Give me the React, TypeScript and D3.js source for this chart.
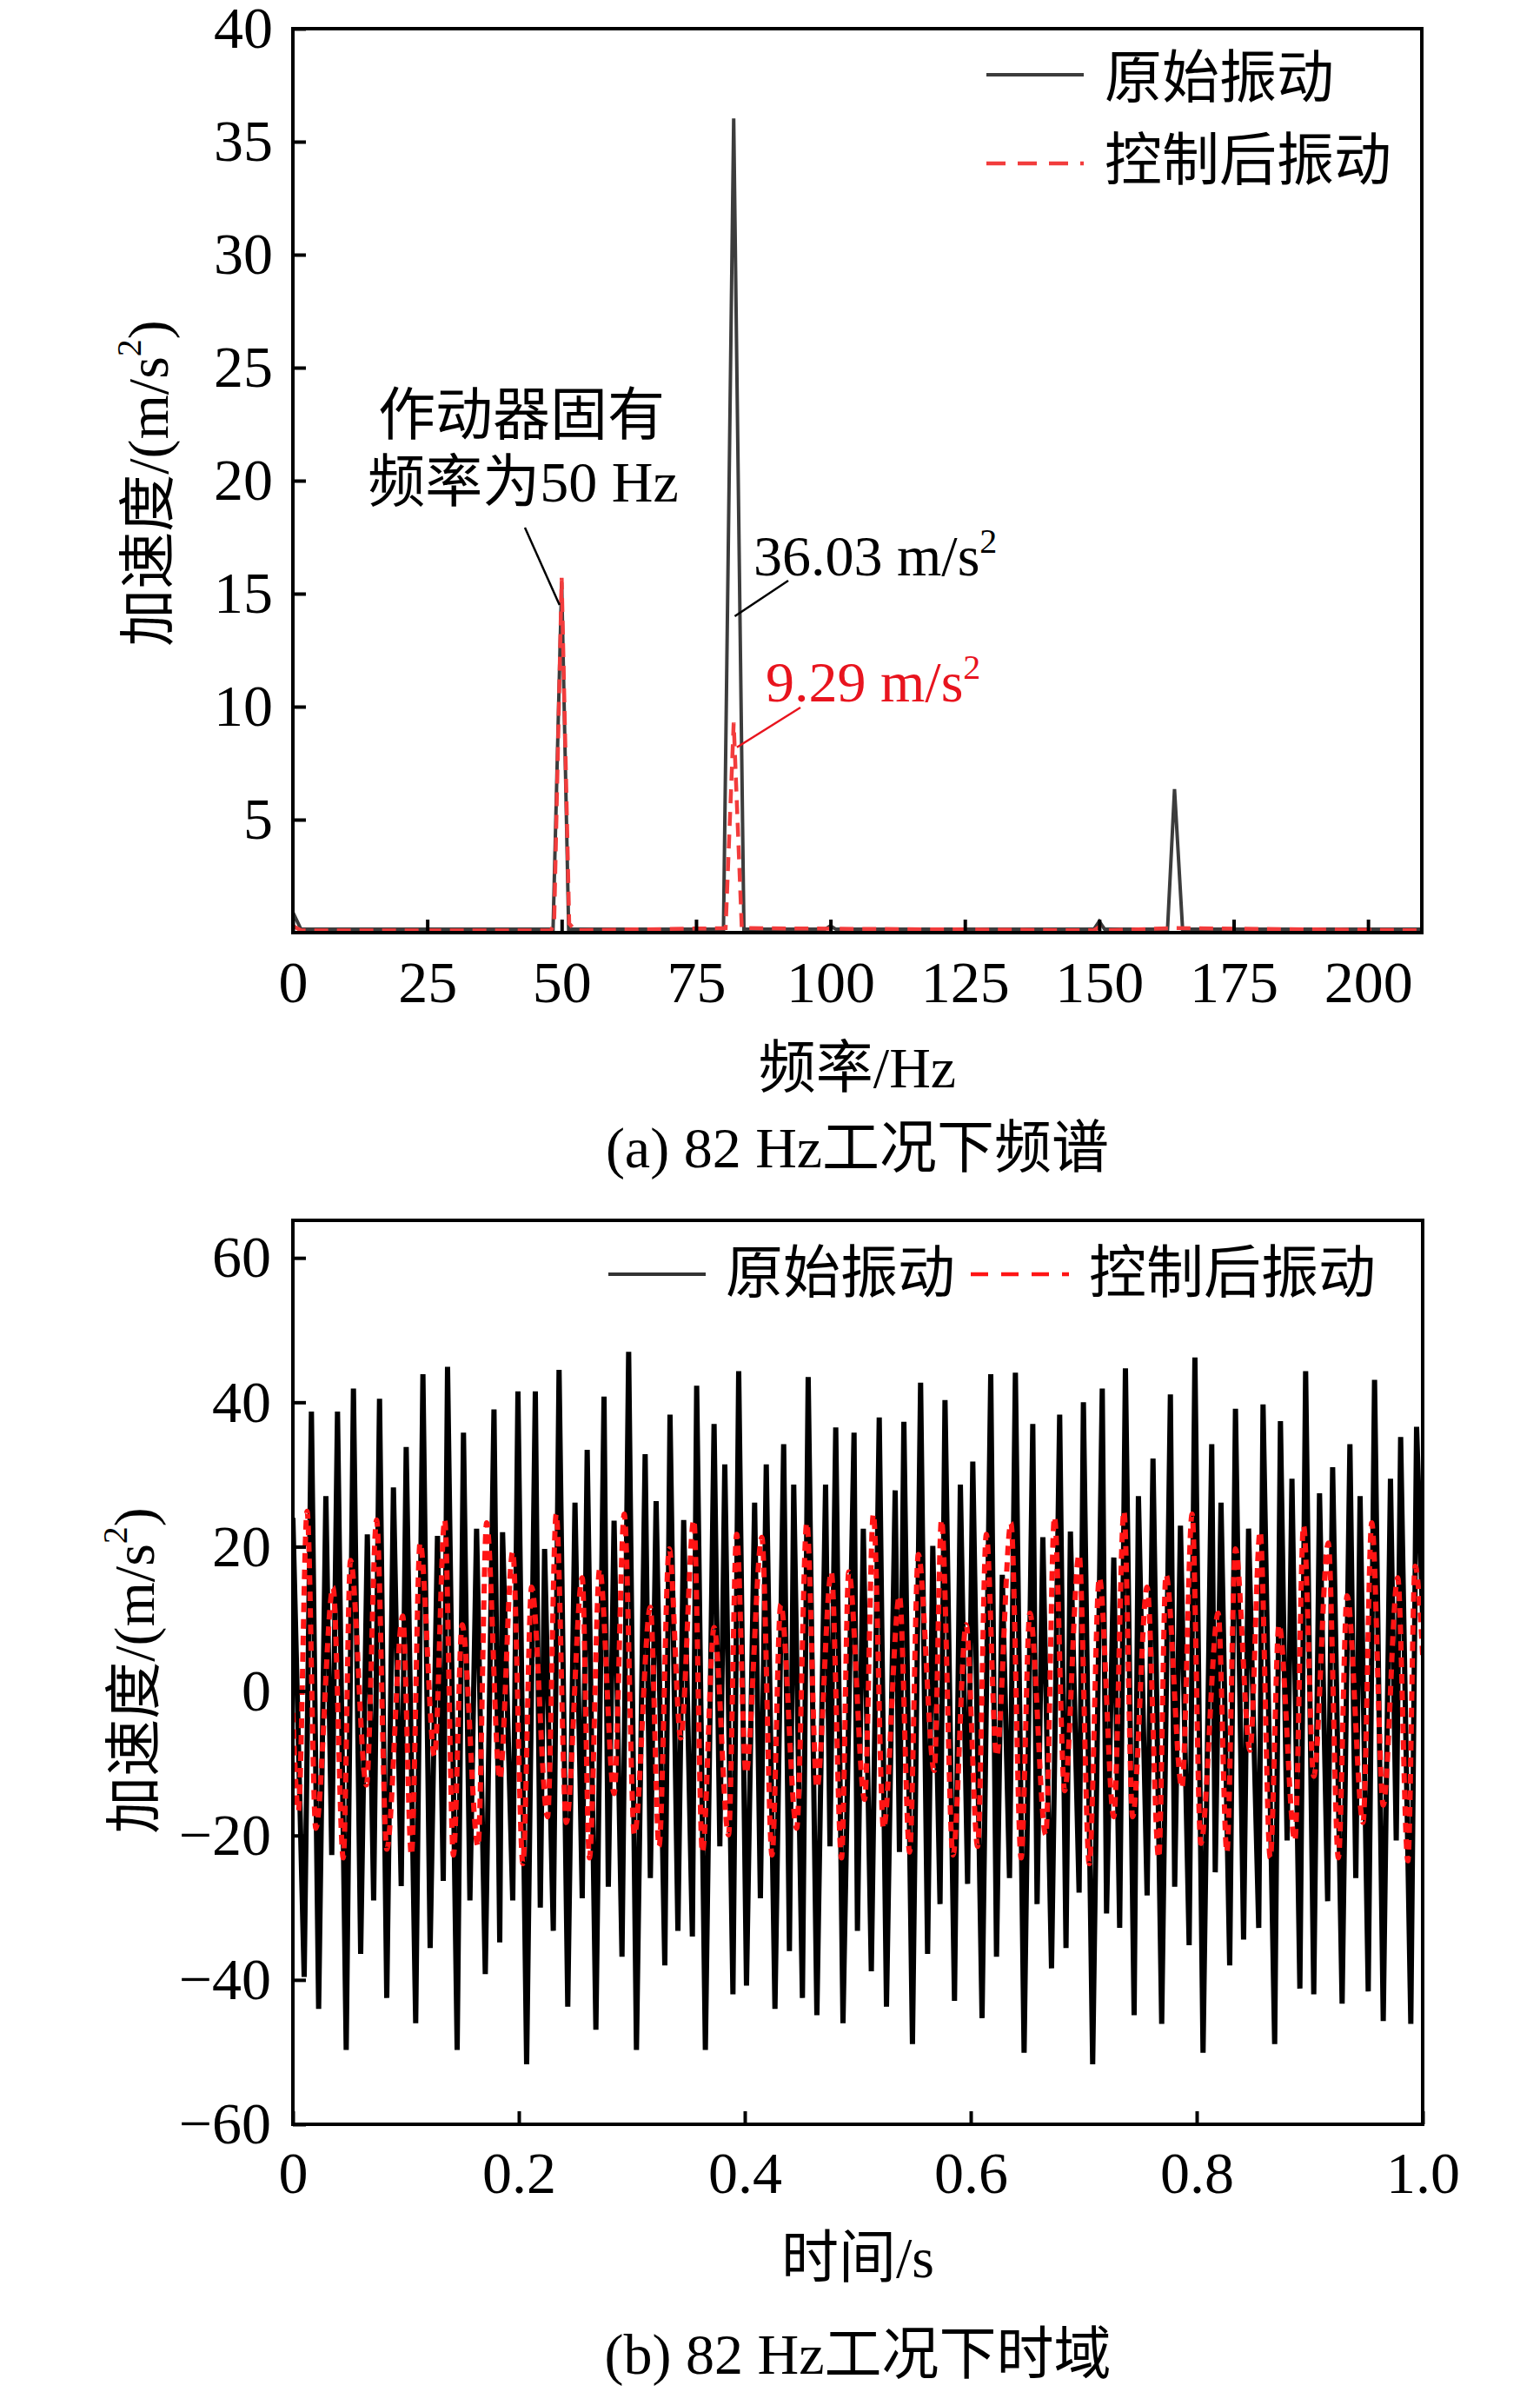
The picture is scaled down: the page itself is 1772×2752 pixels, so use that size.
import * as d3 from "d3";
import React, { useEffect, useRef } from "react";

// ---- (a) spectrum ----
const origFreq = [0, 1.5, 48.4, 50, 51.3, 80.1, 82, 83.9, 99, 100, 101, 149, 150, 151, 162.7, 164, 165.5, 210];
const origAmp = [0.9, 0.15, 0.15, 15.5, 0.15, 0.15, 36.03, 0.15, 0.15, 0.3, 0.15, 0.15, 0.5, 0.15, 0.15, 6.35, 0.15, 0.15];
const ctrlFreq = [0, 1.5, 48, 48.6, 50, 51.4, 52.5, 80.5, 82, 83.5, 149, 150, 151, 164, 210];
const ctrlAmp = [0.3, 0.1, 0.1, 0.4, 15.7, 0.4, 0.1, 0.2, 9.29, 0.2, 0.1, 0.25, 0.1, 0.2, 0.1];
const freqTicks = [0, 25, 50, 75, 100, 125, 150, 175, 200];
const ampTicks = [5, 10, 15, 20, 25, 30, 35, 40];

// ---- (b) time signal: local extremes (ms, m/s^2) ----
const origT = [0, 10, 16.4, 22.8, 29.2, 34.4, 39.5, 47.2, 53.6, 60, 65.9, 71.5, 76.7, 83.1, 89, 95.9, 100.3, 108.7, 115.1, 121.5, 128, 133.1, 136.9, 145.4, 151, 156.7, 162.6, 170.3, 178, 183.1, 185.6, 194.6, 199.2, 206.9, 214.6, 219, 222.8, 230.5, 235.6, 243.3,
  249.7, 256.1, 260.5, 268.2, 275.4, 279.2, 284.3, 291.3, 297.2, 304.1, 311.8, 316.4, 321.5, 329.2, 333.8, 340.8, 345.9, 353.6, 357.4, 365.1, 372.8, 377.9, 382.3, 389.5, 394.6, 401.5, 408.7, 413.8, 419, 426.7, 434.4, 439.5, 443.3, 451, 456.1, 463.8, 471.5, 475.4, 480.5, 486.9,
  496.7, 499.7, 504.9, 512, 519, 525.4, 533.1, 536.9, 540.8, 548.4, 555.6, 561.8, 566.4, 572.8, 577.2, 585.6, 590.8, 597.2, 601.8, 610, 617.7, 622.8, 627.9, 634.3, 639.5, 647.2, 654.9, 658.7, 663.8, 671.5, 678.7, 684.3, 688.2, 695.9, 699.7, 707.9, 716.4, 720.2, 726.6, 731.8, 736.9, 744.6,
  748.4, 756.1, 761.3, 769, 776.7, 780.5, 785.6, 793.3, 798.4, 805.6, 813.3, 816.4, 821.5, 829.2, 834.3, 841.5, 845.9, 854.9, 858.7, 869, 874.1, 880, 884.3, 891.3, 896.4, 903.6, 908.7, 915.9, 920.3, 928.7, 935.6, 940.8, 944.6, 951.8, 957.4, 965.1, 971.5, 976.6, 980.5, 989.5, 994.6, 1000];
const origAcc = [24, -39.6, 38.7, -44, 27, -22.7, 38.7, -49.7, 41.9, -36.4, 21.7, -29, 40.5, -42.5, 28.2, -27, 33.8, -46, 43.9, -35.6, 21.5, -26.3, 44.9, -49.7, 35.8, -29, 22.5, -39.2, 39, -34.8, 22, -29, 41.5, -51.7, 41.5, -30, 19.7, -33.2, 44.5, -43.7,
  26.1, -28.7, 33.4, -46.9, 40.8, -27.1, 23.6, -36.8, 47, -49.7, 32.8, -25.9, 26.3, -38, 38.3, -33.2, 23.7, -34, 42.3, -49.7, 37, -21.5, 31.4, -42, 44.3, -40.8, 26.1, -28.7, 31.4, -44, 34.2, -36, 28.6, -42.5, 43.5, -44.9, 28.6, -21.5, 36.5, -46,
  35.8, -33.2, 22.5, -38.8, 37.9, -43.7, 27.8, -22.3, 37.3, -48.9, 42.7, -36.4, 20.1, -29.5, 40.3, -42.9, 28.6, -26.7, 31.8, -45.3, 43.9, -36.8, 16.1, -25.9, 44.1, -50.1, 37, -29.5, 21.3, -38.4, 38.3, -35.6, 22.1, -27.9, 40, -51.7, 41.9, -30.8, 18.5, -32.8, 44.7, -44.9,
  27, -28.3, 32.2, -46.1, 41.1, -27.1, 22.9, -35.2, 46.2, -50.1, 34.2, -25.1, 26.1, -38, 39.1, -34.4, 22.5, -32.8, 39.7, -48.9, 37.4, -20.7, 29.4, -41.2, 44.3, -42, 27.4, -29.1, 31, -43.3, 34.2, -25.9, 27, -41.6, 43.1, -45.7, 29.4, -20.7, 35.2, -46.1, 36.6, 10];
const ctrlT = [0, 4.9, 12.6, 20.3, 35.6, 44.6, 51, 65.1, 74.1, 83.1, 97.2, 104.9, 112.6, 125.4, 134.4, 142.1, 149.8, 163.9, 171.5, 183.1, 194.6, 203.6, 211.3, 225.4, 233.1, 242,
  256.1, 262.5, 271.5, 284.3, 293.3, 302.3, 316.4, 324.1, 333.1, 343.3, 354.9, 362.5, 372.8, 385.6, 392.8, 401, 415.1, 424.1, 431.8, 445.9, 454.9, 463.8, 476.6, 485.6, 492,
  506.1, 513.8, 522.8, 536.9, 545.9, 553.6, 567.7, 574.1, 584.3, 595.9, 606.1, 613.8, 622.8, 635.6, 644.6, 652.3, 666.4, 674.1, 683.1, 695.9, 704.9, 713.8, 726.6, 735.6, 743.3,
  756.1, 766.4, 772.8, 786.9, 795.9, 803.6, 819, 826.7, 834.3, 847.2, 856.1, 865.1, 872.8, 886.9, 894.6, 903.6, 916.4, 925.4, 933.1, 947.2, 954.9, 965.1, 977.9, 986.9, 993.3, 1000];
const ctrlAcc = [-3, -16.6, 24.9, -19, 14.4, -23.1, 18.1, -13, 23.7, -21.9, 10.4, -22.7, 20.5, -9, 23.7, -22.7, 9.2, -21.5, 23.3, -12.2, 19.3, -23.9, 14.4, -17.4, 24.5, -18.2,
  15.7, -23.1, 16.9, -14.2, 24.5, -19.9, 11.6, -21.5, 19.7, -6.5, 23.7, -22.3, 8.8, -19.9, 21.7, -11.4, 21.3, -22.7, 12, -19, 23.3, -13.4, 16.5, -23.1, 16.5,
  -15, 24.5, -19, 13.2, -22.3, 18.9, -11, 23.7, -22.7, 9.2, -21.5, 21.7, -9, 23.3, -23.1, 10.8, -19.9, 24.1, -13.8, 18.9, -23.9, 15.7, -17.4, 24.9, -17.4,
  14.4, -23.1, 16.1, -13.4, 24.5, -21.1, 10.8, -22.3, 19.7, -8.2, 22.1, -23.1, 9.2, -20.7, 22.9, -11.8, 20.5, -23.1, 13.2, -18.2, 23.3, -15.8, 15.7, -23.5, 17.3, 5];
const timeTicks = [0, 0.2, 0.4, 0.6, 0.8, 1.0];
const accTicks = [-60, -40, -20, 0, 20, 40, 60];

const seriesNames = ["原始振动", "控制后振动"];

const FONT = "'Liberation Serif', 'Noto Sans CJK SC', serif";
const TXT = 66; // size of the titles / legend / notes

function unitLabel(g: any, x: number, y: number, head: string) {
  // rotated y title with a superscript 2
  const t = g
    .append("text")
    .attr("transform", `translate(${x},${y}) rotate(-90)`)
    .attr("text-anchor", "middle")
    .attr("dominant-baseline", "central")
    .attr("font-size", TXT);
  t.append("tspan").text(head + "/(m/s");
  t.append("tspan").attr("dy", -22).attr("font-size", 40).text("2");
  t.append("tspan").attr("dy", 22).text(")");
}

function centred(g: any, x: number, y: number, s: string, size = TXT) {
  return g.append("text").attr("x", x).attr("y", y).attr("text-anchor", "middle")
    .attr("dominant-baseline", "central").attr("font-size", size).text(s);
}

function drawChart(el: SVGSVGElement) {
  const svg = d3.select(el);
  svg.selectAll("*").remove();
  svg.attr("font-family", FONT).attr("fill", "#000");
  svg.append("rect").attr("width", 1772).attr("height", 2752).attr("fill", "#fff");

  // ================= (a) =================
  const xA = d3.scaleLinear().domain([0, 210]).range([337, 1636]);
  const yA = d3.scaleLinear().domain([0, 40]).range([1073, 33]);
  const midA = (xA.range()[0] + xA.range()[1]) / 2;

  svg.append("clipPath").attr("id", "clipA").append("rect")
    .attr("x", 337).attr("y", 33).attr("width", 1299).attr("height", 1040);

  const lineA = d3.line<number>().x((d, i) => xA(origFreq[i])).y(d => yA(d));
  svg.append("path")
    .attr("d", lineA(origAmp))
    .attr("clip-path", "url(#clipA)")
    .attr("fill", "none").attr("stroke", "#3c3c3c").attr("stroke-width", 4);
  const lineA2 = d3.line<number>().x((d, i) => xA(ctrlFreq[i])).y(d => yA(d));
  svg.append("path")
    .attr("d", lineA2(ctrlAmp))
    .attr("clip-path", "url(#clipA)")
    .attr("fill", "none").attr("stroke", "#f23c3c").attr("stroke-width", 4.5)
    .attr("stroke-dasharray", "16 10");

  const axA = svg.append("g").attr("transform", "translate(0,1073)")
    .call(d3.axisBottom(xA).tickValues(freqTicks).tickSize(-15).tickPadding(32).tickFormat(d3.format("d")));
  const ayA = svg.append("g").attr("transform", "translate(337,0)")
    .call(d3.axisLeft(yA).tickValues(ampTicks).tickSize(-15).tickPadding(23).tickFormat(d3.format("d")));
  [axA, ayA].forEach(a => {
    a.select(".domain").remove();
    a.selectAll("line").attr("stroke", "#000").attr("stroke-width", 4);
    a.selectAll("text").attr("font-size", 68).attr("font-family", FONT).attr("fill", "#000");
  });
  svg.append("rect").attr("x", 337).attr("y", 33).attr("width", 1299).attr("height", 1040)
    .attr("fill", "none").attr("stroke", "#000").attr("stroke-width", 4);

  // legend (a)
  svg.append("line").attr("x1", 1135).attr("x2", 1247).attr("y1", 86).attr("y2", 86)
    .attr("stroke", "#3c3c3c").attr("stroke-width", 4);
  svg.append("line").attr("x1", 1135).attr("x2", 1247).attr("y1", 188).attr("y2", 188)
    .attr("stroke", "#f23c3c").attr("stroke-width", 4.5).attr("stroke-dasharray", "22 14");
  svg.append("text").attr("x", 1271).attr("y", 89).attr("dominant-baseline", "central")
    .attr("font-size", TXT).text(seriesNames[0]);
  svg.append("text").attr("x", 1271).attr("y", 184).attr("dominant-baseline", "central")
    .attr("font-size", TXT).text(seriesNames[1]);

  // annotations (a)
  centred(svg, 600, 477, "作动器固有");
  centred(svg, 602, 554, "频率为50 Hz");
  svg.append("line").attr("x1", 604).attr("y1", 607).attr("x2", xA(49.6)).attr("y2", yA(14.5))
    .attr("stroke", "#000").attr("stroke-width", 2.5);

  const pk = svg.append("text").attr("x", 867).attr("y", 662).attr("font-size", 66);
  pk.append("tspan").text("36.03 m/s");
  pk.append("tspan").attr("dy", -26).attr("font-size", 40).text("2");
  svg.append("line").attr("x1", 907).attr("y1", 668).attr("x2", xA(82.2)).attr("y2", yA(14))
    .attr("stroke", "#000").attr("stroke-width", 2.5);

  const pk2 = svg.append("text").attr("x", 881).attr("y", 807).attr("font-size", 66).attr("fill", "#e8141e");
  pk2.append("tspan").text("9.29 m/s");
  pk2.append("tspan").attr("dy", -26).attr("font-size", 40).text("2");
  svg.append("line").attr("x1", 921).attr("y1", 814).attr("x2", xA(82.6)).attr("y2", yA(8.2))
    .attr("stroke", "#e8141e").attr("stroke-width", 2.5);

  unitLabel(svg, 170, 556, "加速度");
  centred(svg, midA, 1228, "频率/Hz");
  centred(svg, midA, 1320, "(a) 82 Hz工况下频谱");

  // ================= (b) =================
  const xB = d3.scaleLinear().domain([0, 1]).range([337, 1637]);
  const yB = d3.scaleLinear().domain([-60, 65.2]).range([2444, 1404]);
  const midB = (xB.range()[0] + xB.range()[1]) / 2;

  svg.append("clipPath").attr("id", "clipB").append("rect")
    .attr("x", 337).attr("y", 1404).attr("width", 1300).attr("height", 1040);

  const lineB = d3.line<number>().x((d, i) => xB(origT[i] / 1000)).y(d => yB(d));
  svg.append("path")
    .attr("d", lineB(origAcc))
    .attr("clip-path", "url(#clipB)")
    .attr("fill", "none").attr("stroke", "#000").attr("stroke-width", 6)
    .attr("stroke-linejoin", "miter").attr("stroke-miterlimit", 3);
  const lineB2 = d3.line<number>().x((d, i) => xB(ctrlT[i] / 1000)).y(d => yB(d)).curve(d3.curveMonotoneX);
  svg.append("path")
    .attr("d", lineB2(ctrlAcc))
    .attr("clip-path", "url(#clipB)")
    .attr("fill", "none").attr("stroke", "#ff1414").attr("stroke-width", 6)
    .attr("stroke-dasharray", "11 8");

  const axB = svg.append("g").attr("transform", "translate(0,2444)")
    .call(d3.axisBottom(xB).tickValues(timeTicks).tickSize(-15).tickPadding(31)
      .tickFormat((d: any) => (d === 0 ? "0" : d3.format(".1f")(d))));
  const ayB = svg.append("g").attr("transform", "translate(337,0)")
    .call(d3.axisLeft(yB).tickValues(accTicks).tickSize(-15).tickPadding(25).tickFormat(d3.format("d")));
  [axB, ayB].forEach(a => {
    a.select(".domain").remove();
    a.selectAll("line").attr("stroke", "#000").attr("stroke-width", 4);
    a.selectAll("text").attr("font-size", 68).attr("font-family", FONT).attr("fill", "#000");
  });
  svg.append("rect").attr("x", 337).attr("y", 1404).attr("width", 1300).attr("height", 1040)
    .attr("fill", "none").attr("stroke", "#000").attr("stroke-width", 4);

  // legend (b), one row
  svg.append("line").attr("x1", 700).attr("x2", 812).attr("y1", 1466).attr("y2", 1466)
    .attr("stroke", "#333").attr("stroke-width", 4);
  svg.append("text").attr("x", 835).attr("y", 1464).attr("dominant-baseline", "central")
    .attr("font-size", TXT).text(seriesNames[0]);
  svg.append("line").attr("x1", 1117).attr("x2", 1230).attr("y1", 1466).attr("y2", 1466)
    .attr("stroke", "#ff1414").attr("stroke-width", 4.5).attr("stroke-dasharray", "20 15");
  svg.append("text").attr("x", 1253).attr("y", 1464).attr("dominant-baseline", "central")
    .attr("font-size", TXT).text(seriesNames[1]);

  unitLabel(svg, 154, 1922, "加速度");
  centred(svg, midB, 2597, "时间/s");
  centred(svg, midB, 2708, "(b) 82 Hz工况下时域");
}

export default function App() {
  const ref = useRef<SVGSVGElement>(null);
  useEffect(() => {
    if (ref.current) drawChart(ref.current);
  }, []);
  return (
    <svg
      ref={ref}
      width={1772}
      height={2752}
      style={{ position: "absolute", left: 0, top: 0, display: "block" }}
    />
  );
}
